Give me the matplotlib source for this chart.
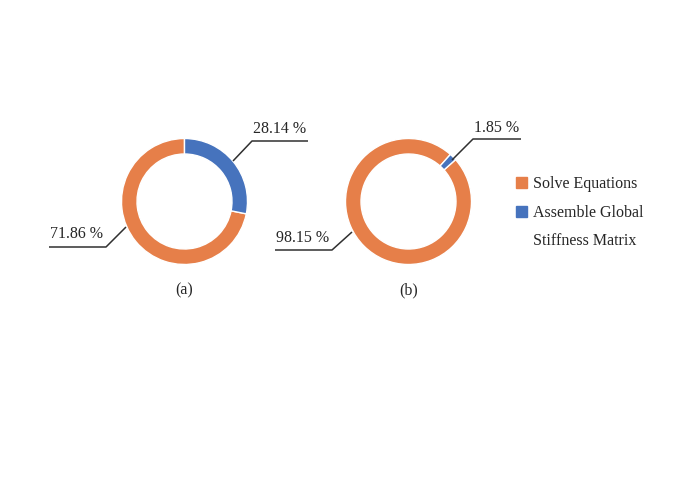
import matplotlib.pyplot as plt
from matplotlib.patches import Rectangle

# data
categories = ["Solve Equations", "Assemble Global\nStiffness Matrix"]
shares_a = [71.86, 28.14]
shares_b = [98.15, 1.85]
colors = ["#E67F49", "#4673BD"]

W, H = 675, 478
plt.rcParams['font.family'] = ['Liberation Serif', 'DejaVu Serif']
TXT = "#262626"
LINE = "#303030"
FS = 11.5

fig = plt.figure(figsize=(W / 100, H / 100), dpi=100)
ax = fig.add_axes([0, 0, 1, 1])


def y(py):
    """pixel row (top down) -> data y"""
    return H - py


def donut(vals, cx, cy, start):
    ax.pie(vals, colors=colors, startangle=start, counterclock=False,
           center=(cx, y(cy)), radius=63, frame=True,
           wedgeprops=dict(width=15.5, edgecolor='white', linewidth=1.0))


def label(tx, base, text, ha='center'):
    ax.text(tx, y(base), text, ha=ha, va='baseline', fontsize=FS, color=TXT)


def leader(pts, text, tx, base):
    ax.plot([p[0] for p in pts], [y(p[1]) for p in pts], color=LINE, lw=1.1,
            solid_capstyle='butt')
    label(tx, base, text)


# (a): blue starts at 12 o'clock
donut(shares_a, 184.5, 201.5, 90 - shares_a[1] * 3.6)
# (b): small blue slice sits at ~45 deg
donut(shares_b, 408.5, 201.5, 45 - shares_b[1] * 3.6 / 2)

ax.set_xlim(0, W)
ax.set_ylim(0, H)
ax.set_aspect('equal')
ax.axis('off')

leader([(233, 161), (252, 141), (308, 141)], f"{shares_a[1]:.2f} %", 280, 133)
leader([(126, 227), (106, 247), (49, 247)], f"{shares_a[0]:.2f} %", 77, 238)
leader([(452, 160), (473, 139), (521, 139)], f"{shares_b[1]:.2f} %", 497, 132)
leader([(352, 232), (332, 250), (275, 250)], f"{shares_b[0]:.2f} %", 303, 242)

label(184.5, 294, "(a)")
label(408.5, 294, "(b)")

# legend
for i, (lab, col) in enumerate(zip(categories, colors)):
    ly = 182 + i * 29
    ax.add_patch(Rectangle((516, y(ly) - 5.5), 11, 11, color=col))
    for j, line in enumerate(lab.split("\n")):
        label(533, ly + 5.5 + j * 28.5, line, ha='left')

fig.savefig("out.png", dpi=100)
